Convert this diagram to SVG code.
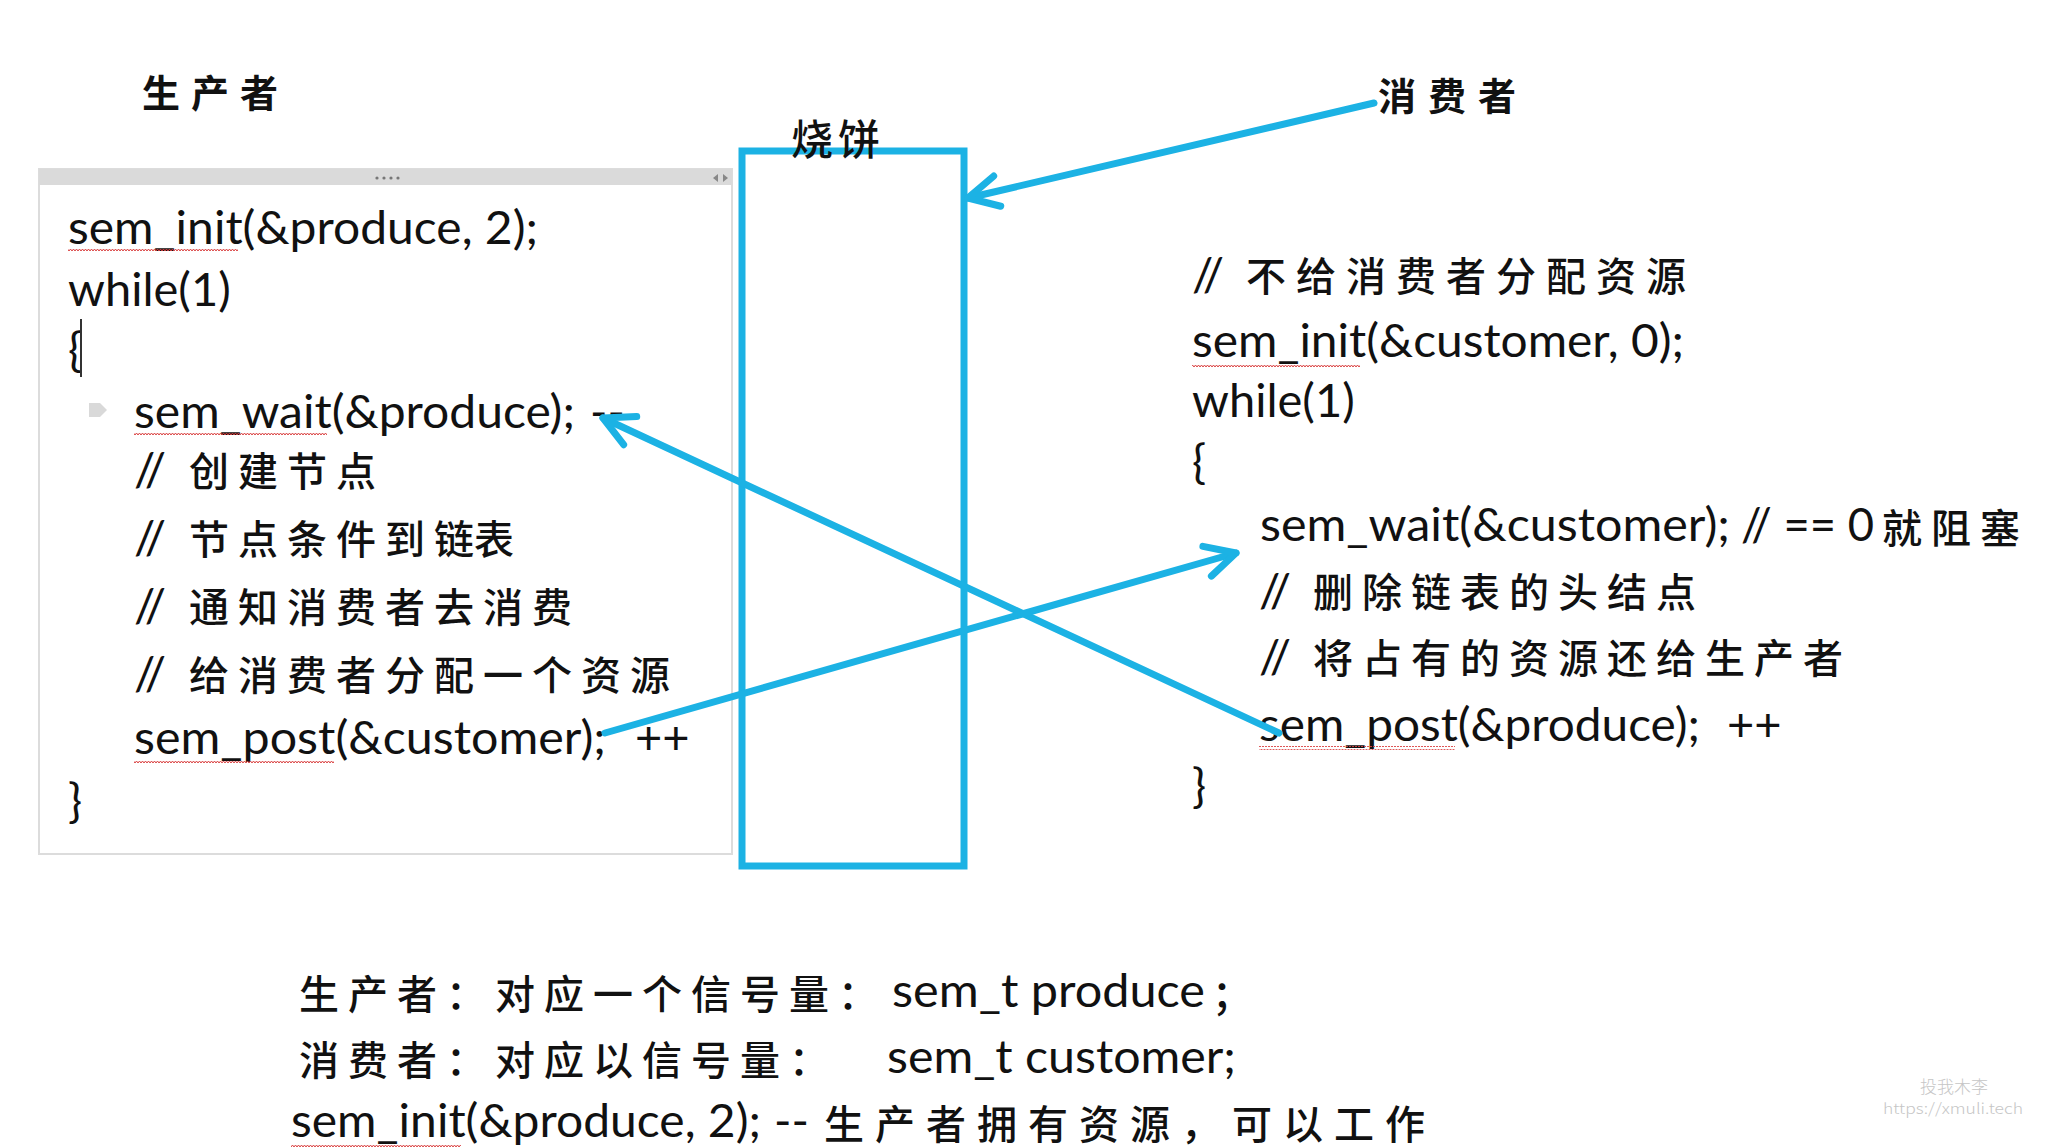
<svg xmlns="http://www.w3.org/2000/svg" width="2058" height="1148" viewBox="0 0 2058 1148">
  <style>
    .code { font-family: "Lato", "Liberation Sans", sans-serif; font-size: 47px; fill: #111; }
    .cn { font-family: "Noto Sans CJK SC", sans-serif; font-size: 40px; fill: #111; font-weight: 500; }
    .title { font-family: "Noto Sans CJK SC", sans-serif; font-size: 38px; fill: #111; font-weight: 700; }
    .wm { font-family: "Noto Sans CJK SC", sans-serif; fill: #c6c6c6; font-weight: 300; }
    .conn { stroke: #1cb2e4; stroke-width: 7; stroke-linecap: round; fill: none; }
  </style>
  <defs>
    <pattern id="squig" width="6" height="4" patternUnits="userSpaceOnUse">
      <path d="M0,3 L1.5,1 L3,3 L4.5,1 L6,3" stroke="#d94040" stroke-width="1" fill="none"/>
    </pattern>
    <marker id="arrow" markerUnits="userSpaceOnUse" viewBox="-40 -25 50 50" refX="0" refY="0" markerWidth="50" markerHeight="50" orient="auto">
      <path d="M -30 -15.5 L 0 0 L -30 15.5" stroke="#1cb2e4" stroke-width="7" stroke-linecap="round" stroke-linejoin="round" fill="none"/>
    </marker>
  </defs>
  <rect x="0" y="0" width="2058" height="1148" fill="#ffffff"/>

  <!-- titles -->
  <g id="producer-title">
    <text class="title" x="142 191 240" y="107">生产者</text>
  </g>
  <g id="consumer-title">
    <text class="title" x="1378 1428 1478" y="110">消费者</text>
  </g>

  <!-- producer code panel -->
  <g id="producer-code">
    <rect x="39" y="169" width="693" height="685" fill="#ffffff" stroke="#dcdcdc" stroke-width="2"/>
    <rect x="39" y="169" width="693" height="16" fill="#dadada"/>
    <circle cx="377" cy="178" r="1.6" fill="#777"/>
    <circle cx="384" cy="178" r="1.6" fill="#777"/>
    <circle cx="391" cy="178" r="1.6" fill="#777"/>
    <circle cx="398" cy="178" r="1.6" fill="#777"/>
    <polygon points="718,174 713,178 718,182" fill="#888"/>
    <polygon points="723,174 728,178 723,182" fill="#888"/>

    <text class="code" x="68" y="244" textLength="470" lengthAdjust="spacingAndGlyphs">sem_init(&amp;produce, 2);</text>
    <rect x="68" y="248" width="170" height="4" fill="url(#squig)"/>
    <text class="code" x="68" y="306">while(1)</text>
    <text class="code" x="68" y="366">{</text>
    <line x1="81" y1="319" x2="81" y2="377" stroke="#333" stroke-width="2"/>
    <polygon points="89,403 100,403 107,410 100,417 89,417" fill="#d9d9d9"/>
    <text class="code" x="134" y="428" textLength="441" lengthAdjust="spacingAndGlyphs">sem_wait(&amp;produce);</text>
    <text class="code" x="590" y="428">--</text>
    <rect x="134" y="433" width="193" height="4" fill="url(#squig)"/>

    <text class="code" x="134" y="486">//</text>
    <text class="cn" x="189 238 287 336" y="486">创建节点</text>
    <text class="code" x="134" y="554">//</text>
    <text class="cn" x="189 238 287 336 385 434" y="554">节点条件到链表</text>
    <text class="code" x="134" y="622">//</text>
    <text class="cn" x="189 238 287 336 385 434 483 532" y="622">通知消费者去消费</text>
    <text class="code" x="134" y="690">//</text>
    <text class="cn" x="189 238 287 336 385 434 483 532 581 630" y="690">给消费者分配一个资源</text>

    <text class="code" x="134" y="754" textLength="472" lengthAdjust="spacingAndGlyphs">sem_post(&amp;customer);</text>
    <text class="code" x="635" y="754">++</text>
    <rect x="134" y="760" width="200" height="4" fill="url(#squig)"/>
    <text class="code" x="68" y="817">}</text>
  </g>

  <!-- shared buffer -->
  <g id="buffer">
    <rect x="742" y="151" width="222" height="715" fill="none" stroke="#1cb2e4" stroke-width="7"/>
    <text class="cn" x="791 838" y="155" style="font-size:42px">烧饼</text>
  </g>

  <!-- consumer code -->
  <g id="consumer-code">
    <text class="code" x="1192" y="291">//</text>
    <text class="cn" x="1246 1296 1346 1396 1446 1496 1546 1596 1646" y="291">不给消费者分配资源</text>
    <text class="code" x="1192" y="357" textLength="492" lengthAdjust="spacingAndGlyphs">sem_init(&amp;customer, 0);</text>
    <rect x="1192" y="363" width="168" height="4" fill="url(#squig)"/>
    <text class="code" x="1192" y="417">while(1)</text>
    <text class="code" x="1192" y="478">{</text>
    <text class="code" x="1260" y="541" textLength="470" lengthAdjust="spacingAndGlyphs">sem_wait(&amp;customer);</text>
    <text class="code" x="1741" y="541" textLength="133" lengthAdjust="spacingAndGlyphs">// == 0</text>
    <text class="cn" x="1882 1931 1980" y="543">就阻塞</text>
    <text class="code" x="1259" y="607">//</text>
    <text class="cn" x="1313 1362 1411 1460 1509 1558 1607 1656" y="607">删除链表的头结点</text>
    <text class="code" x="1259" y="673">//</text>
    <text class="cn" x="1313 1362 1411 1460 1509 1558 1607 1656 1705 1754 1803" y="673">将占有的资源还给生产者</text>
    <text class="code" x="1259" y="741" textLength="441" lengthAdjust="spacingAndGlyphs">sem_post(&amp;produce);</text>
    <text class="code" x="1727" y="741">++</text>
    <rect x="1259" y="746" width="196" height="4" fill="url(#squig)"/>
    <text class="code" x="1192" y="802">}</text>
  </g>

  <!-- summary notes -->
  <g id="summary">
    <text class="cn" x="299 348 397 446 495 544 593 642 691 740 789 838" y="1009">生产者：对应一个信号量：</text>
    <text class="code" x="892" y="1007" textLength="313" lengthAdjust="spacingAndGlyphs">sem_t produce</text>
    <text class="cn" x="1212" y="1009">；</text>
    <text class="cn" x="299 348 397 446 495 544 593 642 691 740 789" y="1075">消费者：对应以信号量：</text>
    <text class="code" x="887" y="1073" textLength="349" lengthAdjust="spacingAndGlyphs">sem_t customer;</text>
    <text class="code" x="291" y="1137" textLength="470" lengthAdjust="spacingAndGlyphs">sem_init(&amp;produce, 2);</text>
    <text class="code" x="774" y="1137">--</text>
    <text class="cn" x="824 875 926 977 1028 1079 1130 1181 1232 1283 1334 1385" y="1139">生产者拥有资源，可以工作</text>
    <rect x="291" y="1143" width="170" height="4" fill="url(#squig)"/>
  </g>

  <!-- connectors -->
  <g id="connectors">
    <line class="conn" x1="1374" y1="103" x2="968" y2="198" marker-end="url(#arrow)"/>
    <line class="conn" x1="1279" y1="733" x2="603" y2="418" marker-end="url(#arrow)"/>
    <line class="conn" x1="605" y1="733" x2="1236" y2="553" marker-end="url(#arrow)"/>
  </g>

  <!-- watermark -->
  <g id="watermark">
    <text class="wm" x="1920" y="1093" style="font-size:17px">投我木李</text>
    <text class="wm" x="1883" y="1114" style="font-size:15px" textLength="140" lengthAdjust="spacingAndGlyphs">https://xmuli.tech</text>
  </g>
</svg>
